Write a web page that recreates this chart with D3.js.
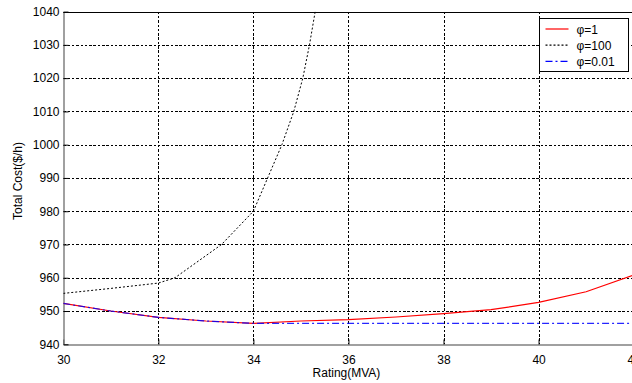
<!DOCTYPE html>
<html>
<head>
<meta charset="utf-8">
<script src="https://cdn.jsdelivr.net/npm/d3@7"></script>
<style>
  body { margin: 0; background: #fff; }
  svg { display: block; font-family: Arial, "Liberation Sans", sans-serif; }
</style>
</head>
<body>
<svg id="chart" width="632" height="383"></svg>
<script>
// data
const ratings = [30, 31, 32, 33, 34, 35, 36, 37, 38, 39, 40, 41, 42];
const costPhi1 = [952.3, 950.0, 948.1, 947.0, 946.3, 947.0, 947.4, 948.2, 949.2, 950.4, 952.6, 955.8, 960.8];
const costPhi001 = [952.3, 950.0, 948.1, 947.0, 946.3, 946.3, 946.3, 946.3, 946.3, 946.3, 946.3, 946.3, 946.3];
const ratingsPhi100 = [30, 31, 32, 32.35, 33.33, 34.0, 34.3, 34.6, 34.85, 35.04, 35.18, 35.3];
const costPhi100 = [955.3, 956.8, 958.4, 960.0, 970.0, 980.0, 990.0, 1000.0, 1010.0, 1020.0, 1030.0, 1040.0];
const xTicks = [30, 32, 34, 36, 38, 40, 42];
const yTicks = [940, 950, 960, 970, 980, 990, 1000, 1010, 1020, 1030, 1040];
const legendLabels = ["\u03c6=1", "\u03c6=100", "\u03c6=0.01"];

const svg = d3.select("#chart");
const pLeft = 63.3, pRight = 633.6, pTop = 11.6, pBottom = 344.3;

const x = d3.scaleLinear().domain([30, 42]).range([pLeft, pRight]);
const y = d3.scaleLinear().domain([940, 1040]).range([pBottom, pTop]);

svg.append("rect").attr("width", 632).attr("height", 383).attr("fill", "#fff");

svg.append("defs").append("clipPath").attr("id", "plot")
  .append("rect").attr("x", pLeft).attr("y", pTop)
  .attr("width", pRight - pLeft).attr("height", pBottom - pTop);

// grid
const grid = svg.append("g").attr("stroke", "#000").attr("stroke-width", 1)
  .attr("stroke-dasharray", "2.5,1.8").attr("shape-rendering", "crispEdges");
grid.selectAll("line.v").data(xTicks.slice(1)).join("line")
  .attr("x1", d => Math.round(x(d)) + 0.5).attr("x2", d => Math.round(x(d)) + 0.5)
  .attr("y1", pTop).attr("y2", pBottom);
grid.selectAll("line.h").data(yTicks.slice(1, -1)).join("line")
  .attr("y1", d => Math.round(y(d)) + 0.5).attr("y2", d => Math.round(y(d)) + 0.5)
  .attr("x1", pLeft).attr("x2", pRight);

// axes (ticks inside)
const xAxis = svg.append("g").attr("transform", `translate(0,${Math.round(pBottom) + 0.5})`)
  .call(d3.axisBottom(x).tickValues(xTicks).tickFormat(d3.format("d"))
    .tickSizeInner(-5).tickSizeOuter(0).tickPadding(9));
const yAxis = svg.append("g").attr("transform", `translate(${Math.round(pLeft) + 0.5},0)`)
  .call(d3.axisLeft(y).tickValues(yTicks).tickFormat(d3.format("d"))
    .tickSizeInner(-5).tickSizeOuter(0).tickPadding(4));
[xAxis, yAxis].forEach(a => {
  a.select(".domain").attr("stroke", "#808080").attr("stroke-width", 1.5);
  a.selectAll(".tick line").attr("stroke", "#000");
  a.selectAll(".tick text").attr("fill", "#000").style("font-size", "12px")
    .style("font-family", "Arial, 'Liberation Sans', sans-serif");
});
xAxis.selectAll(".tick text").attr("dy", "0.9em");

// top border
svg.append("line").attr("x1", pLeft).attr("x2", pRight)
  .attr("y1", Math.round(pTop) + 0.5).attr("y2", Math.round(pTop) + 0.5)
  .attr("stroke", "#000").attr("stroke-width", 1);

// series
const lines = svg.append("g").attr("clip-path", "url(#plot)").attr("fill", "none");
const line = d3.line().x(d => x(d[0])).y(d => y(d[1]));

lines.append("path").datum(ratingsPhi100.map((r, i) => [r, costPhi100[i]]))
  .attr("d", line).attr("stroke", "#000").attr("stroke-width", 1).attr("stroke-dasharray", "2,2");
lines.append("path").datum(ratings.map((r, i) => [r, costPhi1[i]]))
  .attr("d", line).attr("stroke", "#ff0000").attr("stroke-width", 1.2);
lines.append("path").datum(ratings.map((r, i) => [r, costPhi001[i]]))
  .attr("d", line).attr("stroke", "#0000ff").attr("stroke-width", 1.2)
  .attr("stroke-dasharray", "7,3,2,3").attr("stroke-opacity", 0.85);

// axis labels
svg.append("text").attr("x", (pLeft + pRight) / 2 - 2).attr("y", 377)
  .attr("text-anchor", "middle").style("font-size", "12px").text("Rating(MVA)");
svg.append("text").attr("transform", "translate(22,181) rotate(-90)")
  .attr("text-anchor", "middle").style("font-size", "12px").text("Total Cost($/h)");

// legend
const lg = svg.append("g").attr("transform", "translate(539.5,18.5)");
lg.append("rect").attr("width", 89).attr("height", 53)
  .attr("fill", "#fff").attr("stroke", "#000").attr("stroke-width", 1);
const styles = [
  { stroke: "#ff0000", dash: null },
  { stroke: "#000", dash: "2,2" },
  { stroke: "#0000ff", dash: "7,3,2,3" }
];
legendLabels.forEach((lab, i) => {
  const yy = 10.5 + i * 16.2;
  lg.append("line").attr("x1", 6).attr("x2", 29).attr("y1", yy).attr("y2", yy)
    .attr("stroke", styles[i].stroke).attr("stroke-width", 1.2)
    .attr("stroke-dasharray", styles[i].dash);
  lg.append("text").attr("x", 37).attr("y", yy + 4.5)
    .style("font-size", "12px").text(lab);
});
</script>
</body>
</html>
